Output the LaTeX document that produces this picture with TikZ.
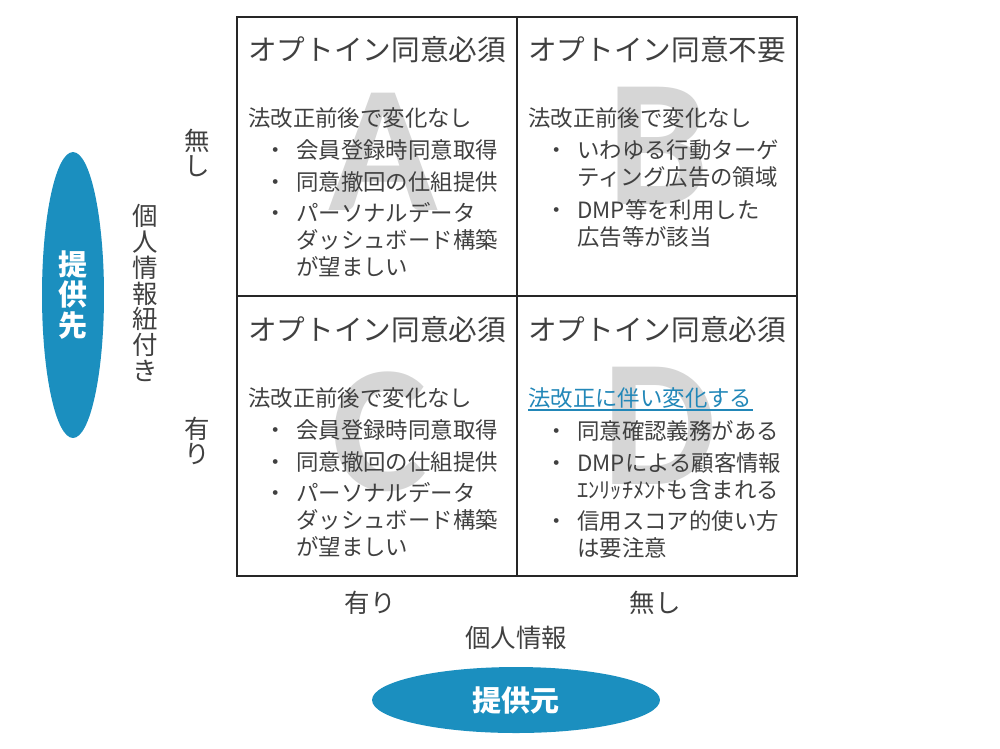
\documentclass[tikz,border=0pt]{standalone}
\usepackage{fontspec}
\setmainfont{Noto Sans CJK JP}
\newfontfamily\letterfont{Carlito}
\usepackage{xcolor}
\usepackage{tikz}
\usetikzlibrary{shapes.geometric}
\definecolor{txtgray}{HTML}{404040}
\definecolor{capblue}{HTML}{1B8FBF}
\definecolor{letgray}{HTML}{D6D6D6}
\definecolor{linkblue}{HTML}{2287B8}
\newcommand{\itemlines}[1]{\begin{tabular}[t]{@{}l@{}}#1\end{tabular}}

\begin{document}
\begin{tikzpicture}[x=0.02cm,y=-0.02cm,
    title/.style={anchor=base west,inner sep=0,text=txtgray,font=\fontsize{16.3pt}{18pt}\selectfont},
    body/.style={anchor=base west,inner sep=0,text=txtgray,font=\fontsize{12.75pt}{15.1pt}\selectfont},
    dot/.style={anchor=base,inner sep=0,text=txtgray,font=\fontsize{12.75pt}{15.1pt}\selectfont},
    axis/.style={inner sep=0,align=center,text=txtgray,font=\fontsize{14.5pt}{14.7pt}\selectfont},
    letter/.style={anchor=base,inner sep=0,text=letgray,font=\letterfont\bfseries\fontsize{103pt}{103pt}\selectfont},
    badge/.style={ellipse,fill=capblue,inner sep=0,align=center,text=white,font=\bfseries\fontsize{16.5pt}{17.6pt}\selectfont},
    grid/.style={draw=black!85,line width=0.85pt}]
  \useasboundingbox (0,0) rectangle (1000,748);
  % letters behind the cells
  \node[letter] (bigA) at (383,210) {A};
  \node[letter] (bigB) at (658,204) {B};
  \node[letter] (bigC) at (379,490) {C};
  \node[letter] (bigD) at (660,484) {D};
  % matrix
  \coordinate (nw) at (237,17);
  \coordinate (se) at (797,576);
  \coordinate (n) at (517,17);
  \coordinate (s) at (517,576);
  \coordinate (w) at (237,296);
  \coordinate (e) at (797,296);
  \draw[grid] (nw) rectangle (se) (n) -- (s) (w) -- (e);
  % cell A
  \node[title] (tA) at (248,60) {オプトイン同意必須};
  \node[body] (hA) at (248,126.5) {法改正前後で変化なし};
  \node[dot] (dA1) at (276,158.5) {・};
  \node[body] (iA1) at (296,158.5) {会員登録時同意取得};
  \node[dot] (dA2) at (276,190.5) {・};
  \node[body] (iA2) at (296,190.5) {同意撤回の仕組提供};
  \node[dot] (dA3) at (276,221.5) {・};
  \node[body] (iA3) at (296,221.5) {\itemlines{パーソナルデータ\\ダッシュボード構築\\が望ましい}};
  % cell B
  \node[title] (tB) at (528,60) {オプトイン同意不要};
  \node[body] (hB) at (528,126.5) {法改正前後で変化なし};
  \node[dot] (dB1) at (557,158.5) {・};
  \node[body] (iB1) at (577,158.5) {\itemlines{いわゆる行動ターゲ\\ティング広告の領域}};
  \node[dot] (dB2) at (557,218.5) {・};
  \node[body] (iB2) at (577,218.5) {\itemlines{DMP等を利用した\\広告等が該当}};
  % cell C
  \node[title] (tC) at (248,340) {オプトイン同意必須};
  \node[body] (hC) at (248,406.5) {法改正前後で変化なし};
  \node[dot] (dC1) at (276,438.5) {・};
  \node[body] (iC1) at (296,438.5) {会員登録時同意取得};
  \node[dot] (dC2) at (276,470.5) {・};
  \node[body] (iC2) at (296,470.5) {同意撤回の仕組提供};
  \node[dot] (dC3) at (276,501.5) {・};
  \node[body] (iC3) at (296,501.5) {\itemlines{パーソナルデータ\\ダッシュボード構築\\が望ましい}};
  % cell D
  \node[title] (tD) at (528,340) {オプトイン同意必須};
  \node[body,text=linkblue] (hD) at (528,406.5) {法改正に伴い変化する};
  \draw[linkblue,line width=1.1pt] ([yshift=-2.2pt]hD.base west) -- ([yshift=-2.2pt]hD.base east);
  \node[dot] (dD1) at (557,439.5) {・};
  \node[body] (iD1) at (577,439.5) {同意確認義務がある};
  \node[dot] (dD2) at (557,471.5) {・};
  \node[body] (iD2) at (577,471.5) {\itemlines{DMPによる顧客情報\\ｴﾝﾘｯﾁﾒﾝﾄも含まれる}};
  \node[dot] (dD3) at (557,529.5) {・};
  \node[body] (iD3) at (577,529.5) {\itemlines{信用スコア的使い方\\は要注意}};
  % axes
  \node[axis] (yno) at (197,153) {無\\し};
  \node[axis] (yyes) at (197,441) {有\\り};
  \node[axis] (ylabel) at (145,293) {個\\人\\情\\報\\紐\\付\\き};
  \node[axis] (xyes) at (370,603) {有り};
  \node[axis] (xno) at (655,603) {無し};
  \node[axis] (xlabel) at (516,638) {個人情報};
  \node[badge,minimum width=1.24cm,minimum height=5.72cm] (dest) at (73,295) {提\\供\\先};
  \node[badge,minimum width=5.76cm,minimum height=1.32cm] (src) at (516,700) {提供元};
\end{tikzpicture}
\end{document}
